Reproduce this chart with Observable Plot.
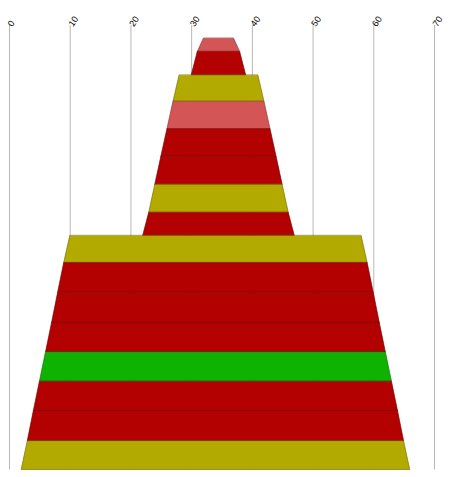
<!DOCTYPE html>
<html>
<head>
<meta charset="utf-8">
<script src="https://cdn.jsdelivr.net/npm/d3@7"></script>
<script src="https://cdn.jsdelivr.net/npm/@observablehq/plot@0.6"></script>
<style>
  html, body { margin: 0; padding: 0; background: #fff; overflow: hidden; }
  #chart svg { display: block; }
</style>
</head>
<body>
<div id="chart"></div>
<script>
// Tick labels on the top axis
const ticks = [0, 10, 20, 30, 40, 50, 60, 70];

// Band vertical extents (top / bottom, in chart y units 0..100, top = 0)
const bandTop    = [3.0, 6.0, 11.3, 17.2, 23.4, 29.6, 35.9, 42.2, 47.4, 53.5, 60.2, 67.0, 73.6, 80.2, 86.8, 93.6];
const bandBottom = [6.0, 11.3, 17.2, 23.4, 29.6, 35.9, 42.2, 47.4, 53.5, 60.2, 67.0, 73.6, 80.2, 86.8, 93.6, 100];

// Left/right values at each band's top and bottom edge
const leftTop     = [32, 31, 28, 27, 26, 25, 24, 23, 10, 9, 8, 7, 6, 5, 4, 3];
const rightTop    = [37, 38, 41, 42, 43, 44, 45, 46, 58, 59, 60, 61, 62, 63, 64, 65];
const leftBottom  = [31, 30, 27, 26, 25, 24, 23, 22, 9, 8, 7, 6, 5, 4, 3, 2];
const rightBottom = [38, 39, 42, 43, 44, 45, 46, 47, 59, 60, 61, 62, 63, 64, 65, 66];

// Status of each band
const status = ["flaky", "error", "warning", "flaky", "error", "error", "warning", "error",
                "warning", "error", "error", "error", "ok", "error", "error", "warning"];

const statusNames  = ["error", "flaky", "warning", "ok"];
const statusColors = ["#b30000", "#d35555", "#b3aa00", "#0db300"];

const rows = [];
status.forEach((s, i) => {
  rows.push({band: i, status: s, y: bandTop[i], x1: leftTop[i], x2: rightTop[i]});
  rows.push({band: i, status: s, y: bandBottom[i], x1: leftBottom[i], x2: rightBottom[i]});
});

const colorOf = new Map(statusNames.map((n, i) => [n, statusColors[i]]));

const chart = Plot.plot({
  width: 452,
  height: 477,
  marginTop: 25,
  marginBottom: 7.5,
  marginLeft: 9,
  marginRight: 18,
  x: {domain: [0, 70], axis: null},
  y: {domain: [0, 100], reverse: true, axis: null},
  color: {domain: statusNames, range: statusColors},
  style: {background: "#fff", overflow: "visible", fontFamily: "'Liberation Sans', Arial, sans-serif"},
  marks: [
    Plot.ruleX(ticks, {x: d => d, stroke: "#b8b8b8", strokeWidth: 1}),
    Plot.areaX(rows, {
      y: "y", x1: "x1", x2: "x2", z: "band",
      fill: "status",
      stroke: d => d3.color(colorOf.get(d.status)).darker(1.3).formatHex(),
      strokeWidth: 0.8,
      strokeOpacity: 0.8
    }),
    Plot.text(ticks, {
      x: d => d,
      text: d => String(d),
      frameAnchor: "top",
      rotate: -55,
      textAnchor: "start",
      dx: -2.5,
      dy: -2,
      fontSize: 9,
      fill: "#000"
    })
  ]
});

document.getElementById("chart").appendChild(chart);
</script>
</body>
</html>
